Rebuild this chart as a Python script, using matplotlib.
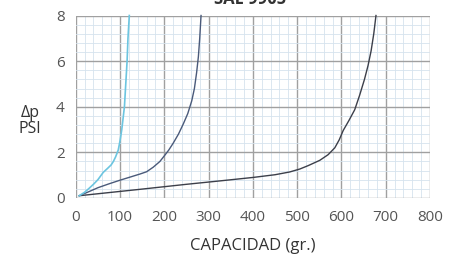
import matplotlib
matplotlib.use("Agg")
import matplotlib.pyplot as plt
from matplotlib.ticker import MultipleLocator

plt.rcParams['font.family'] = ['Open Sans', 'DejaVu Sans']

title = "SAE 9905"
x_label = "CAPACIDAD (gr.)"
y_label = "Δp\nPSI"
x_ticks = [0, 100, 200, 300, 400, 500, 600, 700, 800]
y_ticks = [0, 2, 4, 6, 8]

cyan_x = [8, 20, 30, 40, 50, 62, 72, 80, 85, 90, 96, 100, 104, 107, 110, 113, 116, 118, 121]
cyan_y = [0.1, 0.25, 0.42, 0.6, 0.8, 1.12, 1.3, 1.45, 1.6, 1.8, 2.1, 2.5, 3.0, 3.5, 4.0, 5.0, 6.0, 7.0, 8.0]

mid_x = [8, 30, 50, 75, 100, 120, 145, 160, 175, 190, 201, 210, 220, 232, 243, 253, 262, 268, 273, 277, 280, 283]
mid_y = [0.1, 0.28, 0.45, 0.62, 0.78, 0.9, 1.05, 1.15, 1.35, 1.6, 1.87, 2.1, 2.4, 2.8, 3.25, 3.7, 4.26, 4.8, 5.5, 6.2, 7.0, 8.0]

low_x = [8, 145, 250, 326, 400, 450, 483, 506, 525, 551, 570, 585, 595, 604, 617, 630, 641, 652, 660, 667, 673, 678]
low_y = [0.1, 0.38, 0.6, 0.75, 0.9, 1.02, 1.14, 1.27, 1.42, 1.65, 1.9, 2.2, 2.55, 2.96, 3.4, 3.87, 4.5, 5.2, 5.8, 6.45, 7.2, 8.0]

fig = plt.figure(figsize=(4.6, 2.62), dpi=100)
ax = fig.add_axes([0.1646, 0.2443, 0.9348 - 0.1646, 0.9408 - 0.2443])

ax.set_xlim(0, 800)
ax.set_ylim(0, 8)
ax.xaxis.set_minor_locator(MultipleLocator(20))
ax.yaxis.set_minor_locator(MultipleLocator(0.4))
ax.set_xticks(x_ticks)
ax.set_yticks(y_ticks)
ax.grid(which='minor', color='#d6e3ee', linewidth=0.6)
ax.grid(which='major', color='#a0a0a0', linewidth=1.0)
ax.set_axisbelow(True)
for s in ax.spines.values():
    s.set_visible(False)
ax.tick_params(which='both', length=0)
ax.tick_params(axis='x', labelsize=11, labelcolor='#555555', pad=9)
ax.tick_params(axis='y', labelsize=11, labelcolor='#555555', pad=8)

ax.plot(low_x, low_y, color='#3c3f4a', linewidth=1.0, clip_on=False)
ax.plot(mid_x, mid_y, color='#4a5a7a', linewidth=1.0, clip_on=False)
ax.plot(cyan_x, cyan_y, color='#6cc5e0', linewidth=1.2, clip_on=False)

ax.set_xlabel(x_label, fontsize=12, color='#333333', labelpad=9)
fig.text(30 / 460, 1 - 121 / 262, y_label, ha='center', va='center',
         fontsize=11.5, color='#333333', linespacing=1.0)
fig.text(250 / 460, 1 + 1 / 262, title, ha='center', va='center',
         fontsize=12, fontweight='bold', color='#333333')

fig.savefig("out.png", dpi=100)
